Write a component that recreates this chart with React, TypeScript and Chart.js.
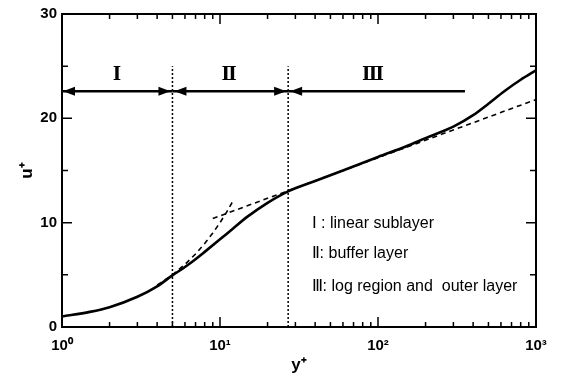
import React, { useEffect, useRef } from "react";
import { Chart, registerables } from "chart.js";
Chart.register(...registerables);

// Velocity profile (solid)
const profileYPlus = [1, 1.5, 2, 3, 4, 5, 6, 7, 8, 10, 12, 15, 20, 27, 40, 60, 100, 150, 200, 300, 400, 500, 630, 800, 1000];
const profileUPlus = [1.0, 1.45, 1.9, 2.9, 3.9, 4.95, 5.75, 6.5, 7.2, 8.4, 9.4, 10.6, 11.9, 13.0, 14.0, 15.0, 16.3, 17.3, 18.1, 19.2, 20.3, 21.4, 22.6, 23.7, 24.6];
// Linear law u+ = y+ (dashed)
const linearYPlus = [4, 5, 6, 7, 8, 9, 10, 11, 12];
const linearUPlus = [4, 5, 6, 7, 8, 9, 10, 11, 12];
// Log law (dashed)
const logYPlus = [9, 1000];
const logUPlus = [10.4, 21.8];
// Region boundaries (dotted)
const boundaryYPlus = [5, 27];
const boundaryTop = 25;
// Region arrows
const arrowLevel = 22.6;
const regionStart = [1, 5, 27];
const regionEnd = [5, 27, 355];
const regionLeftHead = [true, true, true];
const regionRightHead = [true, true, false];
const regionNames = ["Ⅰ", "Ⅱ", "Ⅲ"];
const regionLabelX = [2.23, 11.4, 93];
const regionLabelY = 24.1;
// Legend notes
const noteLines = ["Ⅰ : linear sublayer", "Ⅱ: buffer layer", "Ⅲ: log region and  outer layer"];
const noteX = 38;
const noteY = [9.95, 7.0, 3.9];
// Axes
const xMajorTicks = [1, 10, 100, 1000];
const xTickLabels = ["10⁰", "10¹", "10²", "10³"];
const yMajorTicks = [0, 10, 20, 30];
const yMinorTicks = [5, 15, 25];

const xMinorTicks: number[] = [];
for (const d of [1, 10, 100]) for (let k = 2; k <= 9; k++) xMinorTicks.push(d * k);

const pts = (xs: number[], ys: number[]) => xs.map((x, i) => ({ x, y: ys[i] }));

const decorPlugin = {
  id: "decor",
  afterDatasetsDraw(chart: any) {
    const { ctx, chartArea: a, scales } = chart;
    const xs = scales.x;
    const ys = scales.y;
    ctx.save();
    ctx.strokeStyle = "#000";
    ctx.fillStyle = "#000";
    ctx.lineWidth = 2;
    ctx.strokeRect(a.left, a.top, a.right - a.left, a.bottom - a.top);
    ctx.lineWidth = 1.5;
    ctx.beginPath();
    const xt = (v: number, len: number) => {
      const p = xs.getPixelForValue(v);
      ctx.moveTo(p, a.bottom);
      ctx.lineTo(p, a.bottom - len);
      ctx.moveTo(p, a.top);
      ctx.lineTo(p, a.top + len);
    };
    const yt = (v: number, len: number) => {
      const p = ys.getPixelForValue(v);
      ctx.moveTo(a.left, p);
      ctx.lineTo(a.left + len, p);
      ctx.moveTo(a.right, p);
      ctx.lineTo(a.right - len, p);
    };
    xMajorTicks.forEach((v) => xt(v, 10));
    xMinorTicks.forEach((v) => xt(v, 5));
    yMajorTicks.forEach((v) => yt(v, 10));
    yMinorTicks.forEach((v) => yt(v, 6));
    ctx.stroke();

    // arrowheads
    const py = ys.getPixelForValue(arrowLevel);
    const head = (tip: number, dir: number) => {
      ctx.beginPath();
      ctx.moveTo(tip, py);
      ctx.lineTo(tip - dir * 12, py - 4.5);
      ctx.lineTo(tip - dir * 12, py + 4.5);
      ctx.closePath();
      ctx.fill();
    };
    regionStart.forEach((s, i) => {
      const l = xs.getPixelForValue(s);
      const r = xs.getPixelForValue(regionEnd[i]);
      if (regionLeftHead[i]) head(l + (i === 0 ? 1 : 2), -1);
      if (regionRightHead[i]) head(r - 2, 1);
    });

    // region labels
    ctx.font = "bold 18px 'Liberation Serif', 'DejaVu Serif', serif";
    ctx.textAlign = "center";
    ctx.textBaseline = "middle";
    regionNames.forEach((n, i) => {
      ctx.fillText(n, xs.getPixelForValue(regionLabelX[i]), ys.getPixelForValue(regionLabelY));
    });

    // notes
    ctx.font = "16px 'Liberation Sans', Arial, sans-serif";
    ctx.textAlign = "left";
    noteLines.forEach((t, i) => {
      ctx.fillText(t, xs.getPixelForValue(noteX), ys.getPixelForValue(noteY[i]));
    });
    ctx.restore();
  },
};

export default function App() {
  const ref = useRef<HTMLCanvasElement>(null);
  useEffect(() => {
    if (!ref.current) return;
    const datasets: any[] = [
      {
        data: pts(profileYPlus, profileUPlus),
        borderColor: "#000",
        borderWidth: 2.6,
        pointRadius: 0,
        cubicInterpolationMode: "monotone",
      },
      {
        data: pts(linearYPlus, linearUPlus),
        borderColor: "#000",
        borderWidth: 1.6,
        borderDash: [5, 4],
        pointRadius: 0,
      },
      {
        data: pts(logYPlus, logUPlus),
        borderColor: "#000",
        borderWidth: 1.6,
        borderDash: [5, 4],
        pointRadius: 0,
      },
      ...boundaryYPlus.map((b) => ({
        data: [
          { x: b, y: 0 },
          { x: b, y: boundaryTop },
        ],
        borderColor: "#000",
        borderWidth: 1.5,
        borderDash: [2, 2],
        pointRadius: 0,
      })),
      ...regionStart.map((s, i) => ({
        data: [
          { x: s, y: arrowLevel },
          { x: regionEnd[i], y: arrowLevel },
        ],
        borderColor: "#000",
        borderWidth: 2.4,
        pointRadius: 0,
      })),
    ];
    const tickFont = { family: "'Liberation Sans', Arial, sans-serif", size: 15, weight: "bold" as const };
    const chart = new Chart(ref.current, {
      type: "line",
      data: { datasets },
      plugins: [decorPlugin],
      options: {
        animation: false,
        responsive: false,
        layout: { padding: { top: 13, right: 28, left: 0, bottom: 0 } },
        plugins: { legend: { display: false }, tooltip: { enabled: false } },
        scales: {
          x: {
            type: "logarithmic",
            min: 1,
            max: 1000,
            afterBuildTicks: (s: any) => {
              s.ticks = xMajorTicks.map((v) => ({ value: v }));
            },
            afterFit: (s: any) => {
              s.height = 53;
            },
            grid: { display: false, drawTicks: false },
            border: { display: false },
            ticks: {
              autoSkip: false,
              maxRotation: 0,
              padding: 10,
              color: "#000",
              font: tickFont,
              callback: (v: any) => {
                const i = xMajorTicks.indexOf(Number(v));
                return i >= 0 ? xTickLabels[i] : "";
              },
            },
            title: {
              display: true,
              text: "y⁺",
              color: "#000",
              font: { family: "'Liberation Sans', Arial, sans-serif", size: 17, weight: "bold" },
              padding: { top: 0, bottom: 4 },
            },
          },
          y: {
            type: "linear",
            min: 0,
            max: 30,
            afterBuildTicks: (s: any) => {
              s.ticks = yMajorTicks.map((v) => ({ value: v }));
            },
            afterFit: (s: any) => {
              s.width = 62;
            },
            grid: { display: false, drawTicks: false },
            border: { display: false },
            ticks: { padding: 5, color: "#000", font: tickFont },
            title: {
              display: true,
              text: "u⁺",
              color: "#000",
              font: { family: "'Liberation Sans', Arial, sans-serif", size: 17, weight: "bold" },
              padding: { top: 17, bottom: 0 },
            },
          },
        },
      },
    });
    return () => chart.destroy();
  }, []);
  return (
    <div style={{ position: "absolute", left: 0, top: 0, width: 564, height: 380, background: "#fff" }}>
      <canvas ref={ref} width={564} height={380} />
    </div>
  );
}
